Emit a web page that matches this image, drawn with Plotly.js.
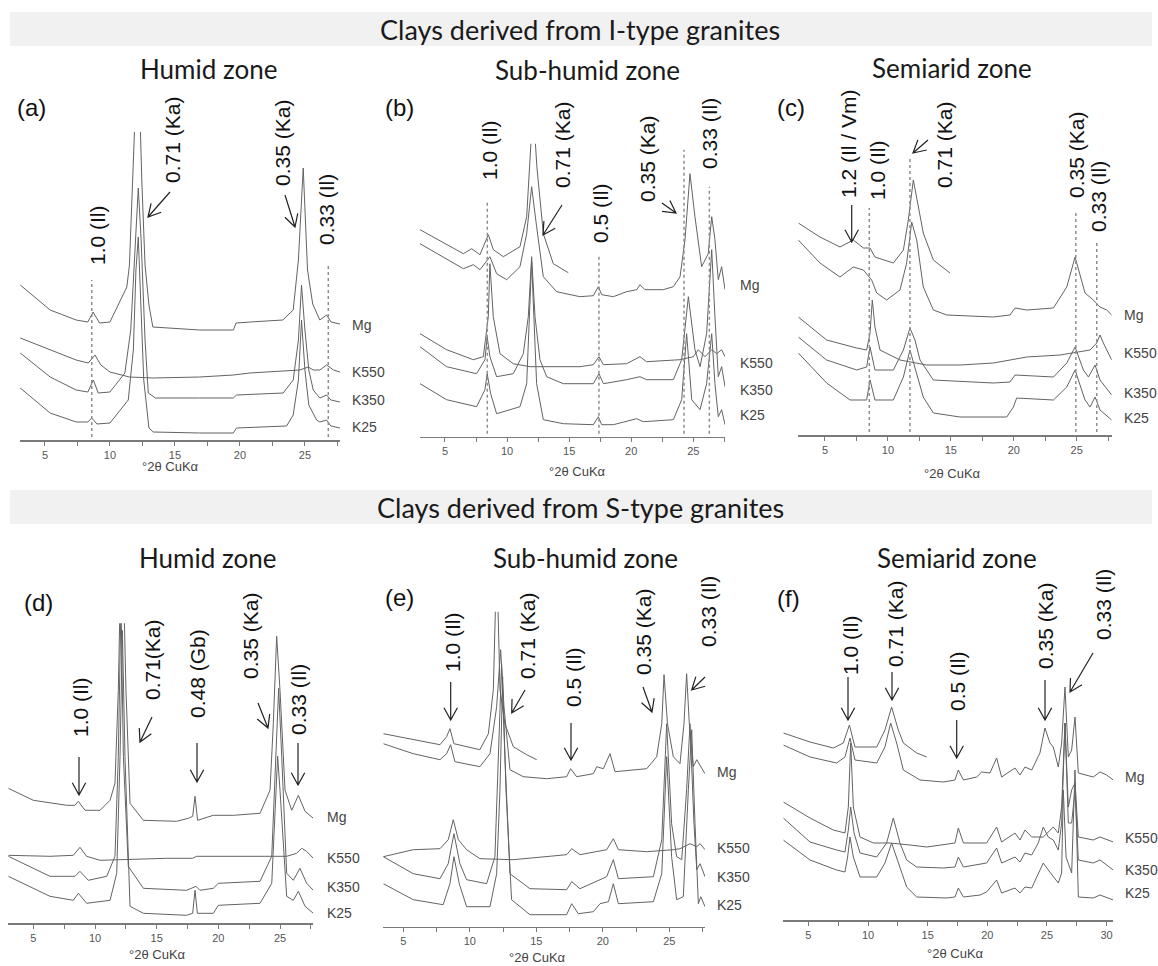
<!DOCTYPE html>
<html><head><meta charset="utf-8">
<script src="https://cdn.plot.ly/plotly-3.0.1.min.js"></script>
<style>html,body{margin:0;padding:0;background:#fff}#chart{width:1158px;height:966px}</style>
</head><body><div id="chart"></div>
<script>
// ---------------- DATA (°2θ CuKα, relative intensity) ----------------
const treatments = ['Mg','K550','K350','K25'];
const groupTitles = ['Clays derived from I-type granites','Clays derived from S-type granites'];
const zoneTitles = ['Humid zone','Sub-humid zone','Semiarid zone','Humid zone','Sub-humid zone','Semiarid zone'];
const panelLetters = ['(a)','(b)','(c)','(d)','(e)','(f)'];
const axisTitle = '°2θ CuKα';

// panel (a)
const aMgX = [3.1,5.4,7.4,8.3,8.7,9.2,10.0,11.3,11.5,11.8,11.95,12.3,12.45,12.7,13.0,13.3,16.9,19.5,19.7,20.8,23.3,24.1,24.5,24.87,25.2,25.6,26.15,26.67,27.0,27.69];
const aMgY = [155,130,120,118,128,117,118,153,175,260,330,330,260,175,135,113,110,110,117,118,120,130,180,272,170,136,120,125,118,116];
const aK550X = [3.1,5.4,7.4,8.33,8.85,9.3,10.0,11.5,13.3,16.9,19.5,20.77,23.3,24.6,25.26,25.64,26.15,26.67,27.2,27.69];
const aK550Y = [102,90,80,77,85,75,68,63,62,63,65,67,69,70,73,70,70,75,70,68];
const aK350X = [3.1,5.4,7.4,8.3,8.72,9.1,10.0,11.15,11.6,11.95,12.18,12.4,12.7,12.95,13.5,16.9,19.49,19.74,23.33,24.1,24.5,24.74,25.0,25.3,25.64,26.15,26.67,27.0,27.69];
const aK350Y = [87,63,50,48,60,47,48,67,110,200,252,200,100,47,42,42,42,45,47,60,100,155,110,70,50,42,45,40,38];
const aK25X = [3.1,5.4,7.4,8.3,8.6,9.0,10.0,11.41,11.8,12.0,12.18,12.35,12.6,13.0,13.33,16.9,19.49,19.74,23.59,24.1,24.5,24.74,25.0,25.3,25.9,26.15,26.67,27.0,27.69];
const aK25Y = [52,27,18,18,22,16,17,40,90,170,203,150,60,12,8,7,7,12,14,25,60,120,70,35,20,18,20,14,12];
const aPeaks = ['1.0 (Il)','0.71 (Ka)','0.35 (Ka)','0.33 (Il)'];
const aGuides = [8.6, 26.8];
const aGuideTops = [160, 175];

// panel (b)
const bMgEGX = [2.99,5.13,6.48,7.15,7.82,8.49,8.9,9.7,11.04,11.58,11.9,12.0,12.2,12.4,12.92,13.72,14.93];
const bMgEGY = [207,192,183,188,182,202,187,180,190,220,277,310,310,270,203,173,164];
const bMgX = [2.99,5.13,6.48,7.28,7.82,8.62,9.16,9.97,11.04,11.58,11.98,12.38,12.92,13.99,15.87,16.95,17.35,17.62,18.56,19.63,20.44,20.7,21.1,22.58,23.39,23.93,24.33,24.73,25.13,25.67,26.2,26.48,26.74,27.01,27.28,27.55];
const bMgY = [193,178,168,172,167,180,163,157,170,203,250,210,160,145,140,141,150,142,140,145,147,152,147,147,150,160,197,263,220,170,183,220,197,157,170,147];
const bK550X = [2.99,5.13,7.28,8.09,8.49,8.62,8.89,9.43,10.5,11.85,15.87,16.95,17.4,17.76,19.63,20.7,21.24,23.93,25.0,25.4,25.94,26.48,26.88,27.28,27.55];
const bK550Y = [103,87,77,80,120,173,120,83,73,70,70,72,80,72,73,80,75,77,80,87,80,87,83,87,80];
const bK350X = [2.99,5.13,7.55,8.22,8.4,8.62,9.16,10.5,11.31,11.71,11.98,12.25,12.65,13.19,14.53,16.95,17.4,17.76,19.63,20.7,21.24,23.39,24.06,24.6,25.13,25.54,26.07,26.48,26.74,27.01,27.28,27.55];
const bK350Y = [90,70,63,77,100,80,60,63,83,120,180,120,77,60,53,53,63,53,57,60,57,57,77,140,87,70,103,187,120,60,70,50];
const bK25X = [2.99,5.13,7.55,8.22,8.4,8.68,9.16,11.04,11.58,11.98,12.38,12.92,14.53,16.95,17.35,17.62,18.56,20.44,20.97,23.39,24.06,24.46,24.87,25.54,26.07,26.48,26.74,27.01,27.28,27.55];
const bK25Y = [53,37,30,47,63,43,23,30,53,175,53,17,13,12,20,12,12,18,15,17,37,103,37,27,53,103,53,20,27,12];
const bPeaks = ['1.0 (Il)','0.71 (Ka)','0.5 (Il)','0.35 (Ka)','0.33 (Il)'];
const bGuides = [8.41, 17.4, 24.25, 26.29];
const bGuideTops = [237, 183, 287, 250];

// panel (c)
const cMgEGX = [2.88,4.6,6.19,7.25,8.05,8.58,8.97,10.43,11.23,11.62,12.02,12.42,12.81,13.61,14.93];
const cMgEGY = [212,198,188,195,187,187,178,172,185,215,255,228,202,175,162];
const cMgX = [2.88,4.6,6.19,7.25,8.05,8.71,9.11,9.9,10.96,11.49,11.89,12.29,12.81,13.61,14.67,18.38,19.7,20.1,21.03,23.15,24.21,24.87,25.66,26.32,26.85,27.38,27.78];
const cMgY = [195,172,158,168,165,155,142,135,145,172,213,195,148,125,120,118,120,127,125,127,148,178,142,135,128,125,120];
const cK550X = [2.88,5.13,7.52,8.31,8.58,8.76,8.97,9.37,10.96,13.08,15.73,18.38,21.03,23.68,26.06,26.59,26.85,27.12,27.78];
const cK550Y = [118,95,87,85,102,135,108,85,75,70,70,72,78,80,85,92,100,92,75];
const cK350X = [2.88,5.13,7.52,8.31,8.58,8.97,10.43,11.23,11.75,12.15,12.55,13.61,18.38,19.7,20.1,23.15,24.21,24.87,25.53,25.93,26.46,26.85,27.78];
const cK350Y = [98,75,65,68,88,65,65,85,107,95,75,55,52,53,60,58,72,88,65,58,70,55,40];
const cK25X = [2.88,5.13,6.99,8.31,8.58,8.97,10.43,11.23,11.75,12.15,12.81,13.61,15.73,19.44,19.97,20.23,23.15,24.21,24.87,25.66,26.06,26.46,26.85,27.78];
const cK25Y = [82,52,35,35,55,35,35,58,85,68,38,22,18,18,28,37,35,48,65,35,28,38,25,15];
const cPeaks = ['1.2 (Il / Vm)','1.0 (Il)','0.71 (Ka)','0.35 (Ka)','0.33 (Il)'];
const cGuides = [8.52, 11.75, 24.93, 26.59];
const cGuideTops = [227, 278, 225, 195];

// panel (d)
const dMgX = [2.97,5,7.7,8.38,8.65,9.19,10.41,11.22,11.62,11.89,12.03,12.35,12.51,12.84,13.92,16.62,17.57,17.92,18.11,18.32,19.59,21.22,23.38,24.19,24.46,24.73,25.0,25.41,25.95,26.49,27.03,27.7];
const dMgY = [135,123,118,118,122,113,113,123,140,233,320,320,233,120,103,102,105,107,127,103,108,108,110,133,200,287,233,133,113,128,112,105];
const dK550X = [2.97,6.35,8.24,8.78,9.32,10.41,15.81,17.9,18.24,21.22,23.92,25.54,26.35,26.76,27.16,27.7];
const dK550Y = [68,67,68,76,67,63,65,65,67,67,67,67,70,75,72,65];
const dK350X = [2.97,6.35,8.38,8.78,9.46,10.95,11.62,11.89,12.11,12.3,12.7,13.92,17.43,18.19,18.51,19.59,20.0,23.38,24.33,24.68,24.89,25.14,25.54,26.08,26.62,27.16,27.7];
const dK350Y = [67,47,47,52,43,47,67,167,320,167,57,35,33,37,33,35,40,42,67,167,235,167,50,43,55,40,33];
const dK25X = [2.97,6.35,8.24,8.65,9.32,11.22,11.76,12.03,12.22,12.43,12.84,13.92,17.43,17.92,18.11,18.3,19.59,20.0,23.38,24.33,24.68,24.81,25.0,25.54,26.08,26.49,27.03,27.7];
const dK25Y = [47,27,23,30,20,23,50,167,293,167,17,10,8,10,33,10,10,18,20,40,133,167,133,27,23,32,17,10];
const dPeaks = ['1.0 (Il)','0.71(Ka)','0.48 (Gb)','0.35 (Ka)','0.33 (Il)'];

// panel (e)
const eMgEGX = [3.5,5.75,7.76,8.26,8.51,8.81,10.76,11.4,11.77,11.95,12.1,12.27,12.64,13.27,14.27,15.03];
const eMgEGY = [193,187,182,190,198,183,177,193,237,330,330,237,203,180,172,167];
const eMgX = [3.5,5.75,7.76,8.26,8.56,8.88,10.76,11.52,12.02,12.32,12.57,13.02,14.02,15.78,17.28,17.58,18.03,19.29,19.54,20.04,20.54,20.92,23.3,24.05,24.43,24.6,24.86,25.3,25.8,26.1,26.3,26.5,26.8,27.06,27.68];
const eMgY = [183,173,167,173,182,165,160,173,220,277,220,157,150,148,150,158,150,153,160,158,173,155,158,170,203,252,203,170,163,203,253,203,160,167,153];
const eK550X = [3.5,5.75,7.76,8.38,8.76,9.14,9.76,10.76,13.27,15.78,17.28,17.66,18.28,20.29,20.79,21.17,23.3,25.3,25.8,26.55,27.06,27.31,27.68];
const eK550Y = [70,77,78,87,107,87,77,68,67,70,72,78,72,77,88,77,75,77,78,83,80,83,77];
const eK350X = [3.5,5.75,7.76,8.38,8.81,9.26,9.76,11.27,11.89,12.14,12.39,12.64,13.02,14.52,17.28,17.66,18.28,19.79,20.29,20.79,21.17,23.8,24.43,24.8,25.17,25.55,25.93,26.3,26.55,26.85,27.06,27.31,27.68];
const eK350Y = [70,53,48,63,93,63,47,43,70,170,263,170,53,38,37,45,38,47,50,67,48,50,87,203,103,70,67,137,203,103,57,63,50];
const eK25X = [3.5,5.75,8.0,8.51,8.81,9.21,9.76,11.52,12.02,12.27,12.47,12.72,13.14,14.52,17.28,17.66,18.16,19.29,19.79,20.42,20.79,21.17,23.8,24.43,24.8,25.17,25.55,26.05,26.43,26.68,26.93,27.18,27.36,27.68];
const eK25Y = [43,27,22,43,70,43,20,20,53,137,250,137,27,12,12,23,13,15,23,25,43,23,25,53,170,70,27,30,137,197,103,23,30,20];
const ePeaks = ['1.0 (Il)','0.71 (Ka)','0.5 (Il)','0.35 (Ka)','0.33 (Il)'];

// panel (f)
const fMgEGX = [2.9,5.14,7.09,7.93,8.44,8.91,10.73,11.42,11.98,12.54,12.96,14.08,14.92];
const fMgEGY = [187,178,172,177,195,173,173,190,213,190,177,167,163];
const fMgX = [2.9,5.14,7.37,8.07,8.49,8.91,10.73,11.42,11.9,12.4,12.96,14.36,16.31,17.29,17.57,18.0,19.11,19.53,20.22,20.78,21.2,22.32,22.74,23.16,23.72,24.41,24.83,25.25,25.53,25.95,26.23,26.51,26.79,27.07,27.35,27.63,28.88,29.44,30.0,30.56];
const fMgY = [175,163,157,163,182,160,157,173,197,177,150,140,138,140,150,140,143,148,147,162,143,152,145,153,150,167,192,177,173,153,177,233,163,170,203,147,143,148,145,140];
const fK550X = [2.9,5.14,7.09,8.07,8.35,8.55,8.77,9.33,10.45,11.84,13.52,14.92,17.29,17.57,18.0,19.94,20.78,21.2,22.32,22.74,23.16,23.72,24.69,25.53,25.95,26.23,26.51,26.79,27.07,27.35,27.63,28.88,29.44,30.56];
const fK550Y = [118,102,90,87,113,177,113,83,77,77,75,73,77,92,77,77,93,78,87,80,90,83,83,93,87,113,197,113,130,137,83,80,83,78];
const fK350X = [2.9,5.14,7.37,8.07,8.35,8.55,8.83,9.33,10.73,11.56,12.12,12.68,13.24,14.08,16.31,17.29,17.57,18.0,19.94,20.78,21.2,22.32,22.74,23.16,23.72,24.27,24.69,25.11,25.53,25.95,26.23,26.51,26.79,27.07,27.35,27.63,28.88,29.44,30.56];
const fK350Y = [102,78,70,68,90,113,87,67,63,77,102,77,60,53,52,53,63,53,57,72,57,63,58,67,65,77,93,83,80,70,97,197,97,97,130,60,57,60,50];
const fK25X = [2.9,5.14,7.37,8.07,8.29,8.49,8.77,9.33,10.73,11.42,11.98,12.54,13.24,14.08,16.59,17.29,17.57,18.0,19.39,19.94,20.78,21.2,22.32,22.74,23.16,23.72,24.27,24.69,25.11,25.53,25.95,26.23,26.37,26.6,27.07,27.35,27.63,28.88,29.44,30.56];
const fK25Y = [80,60,50,48,63,83,63,43,43,57,77,57,33,23,22,23,32,23,25,28,40,27,32,27,33,32,47,57,50,43,37,47,130,63,47,150,23,22,25,20];
const fPeaks = ['1.0 (Il)','0.71 (Ka)','0.5 (Il)','0.35 (Ka)','0.33 (Il)'];

// ---------------- LAYOUT GEOMETRY (pixels) ----------------
const W = 1158, H = 966;
const X = p => p / W, Y = p => 1 - p / H;

const panels = [
 {x0:20, x1:340, xr:[3.08,27.7], yb:440, yh:308,
  series:[[aMgX,aMgY],[aK550X,aK550Y],[aK350X,aK350Y],[aK25X,aK25Y]], guides:aGuides, tops:aGuideTops, peaks:aPeaks,
  letter:[15,108], zone:[208,69], xt:[170,466], tl:[350,[325,372,400,427]],
  pk:[[97,235],[173,140],[282,143],[327,210]], arrows:[[170,192,148,217],[285,195,295,227]]},
 {x0:420, x1:725, xr:[2.99,27.55], yb:436.7, yh:293,
  series:[[bMgEGX,bMgEGY],[bMgX,bMgY],[bK550X,bK550Y],[bK350X,bK350Y],[bK25X,bK25Y]], guides:bGuides, tops:bGuideTops, peaks:bPeaks,
  letter:[383,108], zone:[587,70], xt:[577,471], tl:[738,[285,363,390,415]],
  pk:[[490,150],[563,145],[600,213],[647,159],[710,134]], arrows:[[562,205,543,235],[662,203,676,213]]},
 {x0:798.3, x1:1111.7, xr:[2.88,27.78], yb:435, yh:300,
  series:[[cMgEGX,cMgEGY],[cMgX,cMgY],[cK550X,cK550Y],[cK350X,cK350Y],[cK25X,cK25Y]], guides:cGuides, tops:cGuideTops, peaks:cPeaks,
  letter:[775,108], zone:[952,68], xt:[952,473], tl:[1122,[315,353,393,418]],
  pk:[[848,144],[877,170],[945,145],[1077,155],[1098,197]], arrows:[[851.7,205,851.7,242],[928,140,913,153]]},
 {x0:8.3, x1:313.3, xr:[2.97,27.7], yb:923.3, yh:300,
  series:[[dMgX,dMgY],[dK550X,dK550Y],[dK350X,dK350Y],[dK25X,dK25Y]], guides:[], tops:[], peaks:dPeaks,
  letter:[22,602], zone:[207,558], xt:[157,954], tl:[325,[817,858,887,913]],
  pk:[[80,707],[152,660],[197,674],[250,636],[298,700]],
  arrows:[[79,757,79,795],[152,717,140,742],[197,743,197,782],[258,703,268,728],[298,743,298,785]]},
 {x0:383.3, x1:705, xr:[3.5,27.68], yb:926.7, yh:315,
  series:[[eMgEGX,eMgEGY],[eMgX,eMgY],[eK550X,eK550Y],[eK350X,eK350Y],[eK25X,eK25Y]], guides:[], tops:[], peaks:ePeaks,
  letter:[383,597], zone:[585,558], xt:[537,957], tl:[715,[772,848,877,905]],
  pk:[[452,642],[527,636],[573,677],[643,632],[708,612]],
  arrows:[[450.7,682,450.7,720],[525,690,511.7,713],[571,723,571,760],[643,687,652,712],[705,677,691.7,690]]},
 {x0:783.3, x1:1113.3, xr:[2.9,30.56], yb:920, yh:300,
  series:[[fMgEGX,fMgEGY],[fMgX,fMgY],[fK550X,fK550Y],[fK350X,fK350Y],[fK25X,fK25Y]], guides:[], tops:[], peaks:fPeaks,
  letter:[775,598], zone:[957,558], xt:[955,953], tl:[1123,[777,838,870,893]],
  pk:[[850,645],[895,624],[957,681],[1045,626],[1103,605]],
  arrows:[[848,677,848,720],[892,672,892,700],[956.7,720,956.7,758],[1045,680,1045,720],[1093,653,1070,692]]}
];

const SANS = 'Liberation Sans, Arial, sans-serif';
const HEAD = 'Lato, Open Sans, sans-serif';
const traces = [], annotations = [], shapes = [];
const layout = {width:W, height:H, margin:{l:0,r:0,t:0,b:0}, paper_bgcolor:'#fff', plot_bgcolor:'rgba(0,0,0,0)',
  showlegend:false, annotations, shapes};

function txt(text, x, y, size, opts) {
  return Object.assign({text, x:X(x), y:Y(y), xref:'paper', yref:'paper', showarrow:false,
    xanchor:'center', yanchor:'middle', font:{family:SANS, size, color:'#111'}}, opts || {});
}
function arrow(x0, y0, x1, y1) {
  const ang = Math.atan2(y1 - y0, x1 - x0), L = 14, a = 0.5;
  const bx1 = x1 - L * Math.cos(ang - a), by1 = y1 - L * Math.sin(ang - a);
  const bx2 = x1 - L * Math.cos(ang + a), by2 = y1 - L * Math.sin(ang + a);
  return {type:'path', xref:'paper', yref:'paper',
    path:`M${X(x0)},${Y(y0)}L${X(x1)},${Y(y1)}M${X(bx1)},${Y(by1)}L${X(x1)},${Y(y1)}L${X(bx2)},${Y(by2)}`,
    line:{color:'#222', width:1.2}};
}

// banners
[[12,46,29],[490,524,507]].forEach((b, i) => {
  shapes.push({type:'rect', xref:'paper', yref:'paper', x0:X(10), x1:X(1152), y0:Y(b[1]), y1:Y(b[0]),
    fillcolor:'#f1f1f1', line:{width:0}, layer:'below'});
  annotations.push(txt(groupTitles[i], 580, b[2], 27, {font:{family:HEAD, size:27, color:'#1a1a1a'}}));
});

panels.forEach((p, i) => {
  const n = i === 0 ? '' : String(i + 1);
  layout['xaxis' + n] = {domain:[X(p.x0), X(p.x1)], range:p.xr, anchor:'y' + n,
    showline:true, linecolor:'#7a7a7a', linewidth:1.5, ticks:'outside', ticklen:4, tickwidth:1, tickcolor:'#7a7a7a',
    tick0:0, dtick:5, minor:{tick0:0, dtick:2.5, ticks:'outside', ticklen:4, tickcolor:'#7a7a7a', showgrid:false},
    showgrid:false, zeroline:false, fixedrange:true, tickfont:{family:SANS, size:11, color:'#555'}};
  layout['yaxis' + n] = {domain:[Y(p.yb), Y(p.yb - p.yh)], range:[0, p.yh], anchor:'x' + n,
    visible:false, fixedrange:true};
  p.series.forEach(s => traces.push({x:s[0], y:s[1], xaxis:'x' + n, yaxis:'y' + n, type:'scatter', mode:'lines',
    line:{color:'#636363', width:1}, hoverinfo:'skip'}));
  p.guides.forEach((g, k) => shapes.push({type:'line', xref:'x' + n, yref:'y' + n, x0:g, x1:g, y0:3, y1:p.tops[k],
    line:{color:'#8c8c8c', width:1.5, dash:'dot'}}));
  annotations.push(txt(panelLetters[i], p.letter[0], p.letter[1], 24, {xanchor:'left'}));
  annotations.push(txt(zoneTitles[i], p.zone[0], p.zone[1], 26, {font:{family:HEAD, size:26, color:'#1a1a1a'}}));
  annotations.push(txt(axisTitle, p.xt[0], p.xt[1], 13, {font:{family:SANS, size:13, color:'#444'}}));
  treatments.forEach((t, k) => annotations.push(txt(t, p.tl[0], p.tl[1][k], 14,
    {xanchor:'left', font:{family:SANS, size:14, color:'#444'}})));
  p.peaks.forEach((t, k) => annotations.push(txt(t, p.pk[k][0], p.pk[k][1], 21, {textangle:-90})));
  p.arrows.forEach(a => shapes.push(arrow(a[0], a[1], a[2], a[3])));
});

Plotly.newPlot('chart', traces, layout, {displayModeBar:false, staticPlot:true});
</script></body></html>
